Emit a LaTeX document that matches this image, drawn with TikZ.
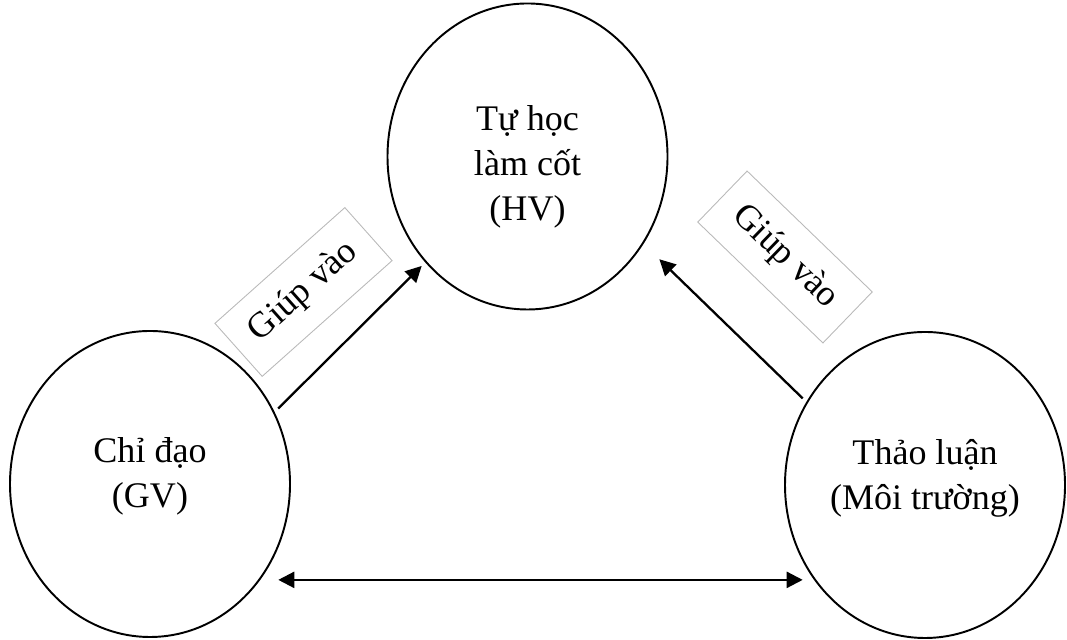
\documentclass[tikz,border=0pt]{standalone}
\usepackage{fontspec}
\setmainfont{Liberation Serif}
\usetikzlibrary{shapes.geometric,arrows.meta}
\tikzset{
  vong/.style={draw,ellipse,line width=1.1pt,minimum width=5.6cm,minimum height=6.12cm,inner sep=0pt,align=center,font=\fontsize{20.5}{25.6}\selectfont},
  giup/.style={draw=gray!55,line width=0.5pt,minimum width=3.48cm,minimum height=1.42cm,inner sep=0pt,font=\fontsize{20.5}{24}\selectfont},
  muiten/.style={line width=1.3pt,-{Triangle[length=0.32cm,width=0.32cm]}}
}
\begin{document}
\begin{tikzpicture}
\useasboundingbox (0,0) rectangle (21.34,12.8);
\node[vong] (hv) at (10.55,9.67) {\rule{0pt}{0.9cm}Tự học\\làm cốt\\(HV)};
\node[vong] (gv) at (3.0,3.12) {Chỉ đạo\\(GV)\rule[-0.44cm]{0pt}{0.44cm}};
\node[vong] (mt) at (18.5,3.1) {Thảo luận\\(Môi trường)\rule[-0.44cm]{0pt}{0.44cm}};
\node[giup,rotate=41.7] (g1) at (6.07,6.96) {Giúp vào};
\node[giup,rotate=-44] (g2) at (15.70,7.66) {Giúp vào};
\draw[muiten,shorten <=0.1cm,shorten >=0.1cm] (gv.30) -- (hv.-134);
\draw[muiten,shorten <=0.1cm,shorten >=0.44cm] (mt.145) -- (hv.-37);
\draw[muiten,{Triangle[length=0.32cm,width=0.32cm]}-{Triangle[length=0.32cm,width=0.32cm]},shorten <=0.36cm,shorten >=0.24cm] (gv.-41) -- (gv.-41 -| mt.-139);
\end{tikzpicture}
\end{document}
